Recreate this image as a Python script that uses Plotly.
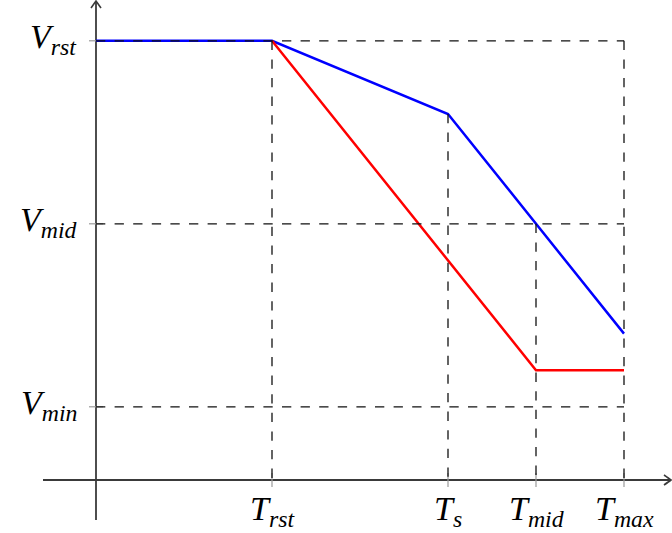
import plotly.graph_objects as go

# Time marks on the horizontal axis
t_names = ["rst", "s", "mid", "max"]
t_vals = [2, 4, 5, 6]

# Voltage levels on the vertical axis
v_names = ["min", "mid", "rst"]
v_vals = [2, 7, 12]

# Two voltage profiles
blue_t = [0, 2, 4, 5, 6]
blue_v = [12, 12, 10, 7, 4]
red_t = [2, 5, 6]
red_v = [12, 3, 3]

# Upper end of each vertical guide
t_guide_top = [12, 10, 7, 12]

PX_X = 88.0     # pixels per time unit
PX_Y = 36.6     # pixels per voltage unit
W, H = 672, 533
OX, OY = 96, 480  # origin in pixels

x_range = [-OX / PX_X, (W - OX) / PX_X]
y_range = [-(H - OY) / PX_Y, OY / PX_Y]

AXIS_COL = "#3a3a3a"
DASH_COL = "#111111"
TICK_COL = "#9a9a9a"
FONT = "Liberation Serif"
FSIZE = 34

fig = go.Figure()

# profiles
fig.add_trace(go.Scatter(x=blue_t, y=blue_v, mode="lines",
                         line=dict(color="#0000ff", width=2.5)))
fig.add_trace(go.Scatter(x=red_t, y=red_v, mode="lines",
                         line=dict(color="#ff0000", width=2.5)))

dash = "9.3px,9.3px"
# horizontal guides
for v in v_vals:
    fig.add_trace(go.Scatter(x=[0, max(t_vals)], y=[v, v], mode="lines",
                             line=dict(color=DASH_COL, width=1.3, dash=dash)))
# vertical guides
for t, top in zip(t_vals, t_guide_top):
    fig.add_trace(go.Scatter(x=[t, t], y=[top, 0], mode="lines",
                             line=dict(color=DASH_COL, width=1.3, dash=dash)))

shapes = []
# axes
x_lo = -53 / PX_X
x_tip = (W - 1) / PX_X - OX / PX_X
y_lo = -40 / PX_Y
y_tip = (OY - 1) / PX_Y
shapes.append(dict(type="line", xref="x", yref="y", x0=x_lo, x1=x_tip, y0=0, y1=0,
                   line=dict(color=AXIS_COL, width=1.8), layer="below"))
shapes.append(dict(type="line", xref="x", yref="y", x0=0, x1=0, y0=y_lo, y1=y_tip,
                   line=dict(color=AXIS_COL, width=1.8), layer="below"))
# arrow heads
shapes.append(dict(type="path", xref="x", yref="y", xsizemode="pixel", ysizemode="pixel",
                   xanchor=x_tip, yanchor=0,
                   path="M -7,5 Q -2,1.5 0,0 Q -2,-1.5 -7,-5",
                   line=dict(color=AXIS_COL, width=1.6), fillcolor="rgba(0,0,0,0)"))
shapes.append(dict(type="path", xref="x", yref="y", xsizemode="pixel", ysizemode="pixel",
                   xanchor=0, yanchor=y_tip,
                   path="M -5,-7 Q -1.5,-2 0,0 Q 1.5,-2 5,-7",
                   line=dict(color=AXIS_COL, width=1.6), fillcolor="rgba(0,0,0,0)"))
# tick marks
for t in t_vals:
    shapes.append(dict(type="line", xref="x", yref="y", xsizemode="scaled", ysizemode="pixel",
                       yanchor=0, x0=t, x1=t, y0=-7, y1=7,
                       line=dict(color=TICK_COL, width=1.2), layer="below"))
for v in v_vals:
    shapes.append(dict(type="line", xref="x", yref="y", xsizemode="pixel", ysizemode="scaled",
                       xanchor=0, x0=-7, x1=7, y0=v, y1=v,
                       line=dict(color=TICK_COL, width=1.2), layer="below"))

annotations = []
for name, v in zip(v_names, v_vals):
    annotations.append(dict(x=0, y=v, xref="x", yref="y", showarrow=False,
                            text=f"<i>V</i><sub><i>{name}</i></sub>",
                            xanchor="right", yanchor="middle", xshift=-17, yshift=2,
                            font=dict(family=FONT, size=FSIZE, color="black")))
for name, t in zip(t_names, t_vals):
    annotations.append(dict(x=t, y=0, xref="x", yref="y", showarrow=False,
                            text=f"<i>T</i><sub><i>{name}</i></sub>",
                            xanchor="center", yanchor="top", yshift=-8,
                            font=dict(family=FONT, size=FSIZE, color="black")))

fig.update_layout(
    width=W, height=H,
    margin=dict(l=0, r=0, t=0, b=0),
    paper_bgcolor="white", plot_bgcolor="white",
    showlegend=False,
    xaxis=dict(range=x_range, visible=False, fixedrange=True),
    yaxis=dict(range=y_range, visible=False, fixedrange=True),
    shapes=shapes, annotations=annotations,
)

fig.write_html("out.html")
